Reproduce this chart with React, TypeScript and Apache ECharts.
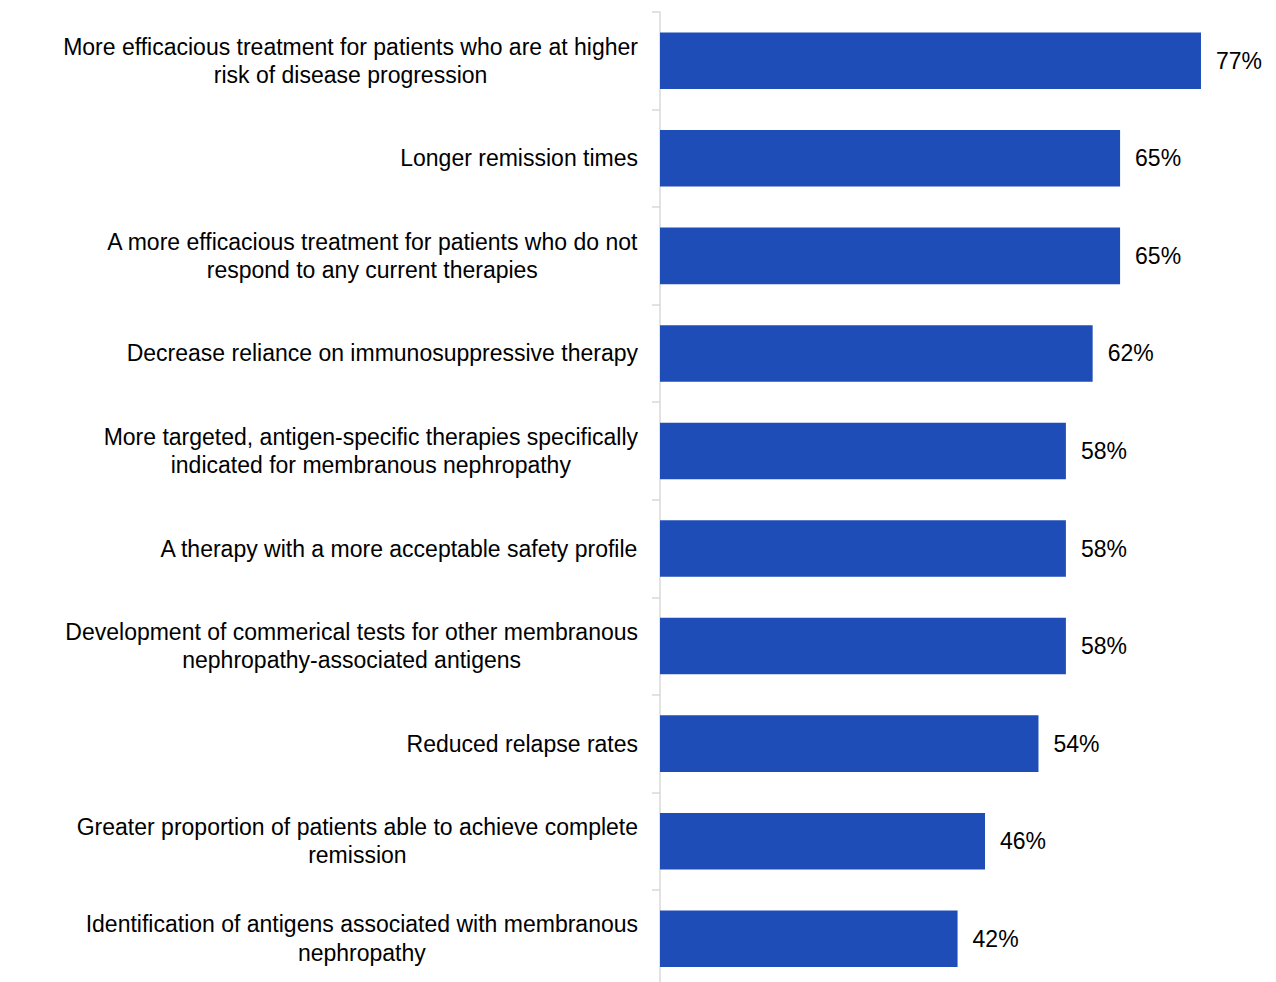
import React, { useEffect, useRef } from "react";
import * as echarts from "echarts";

const categories = [
  "More efficacious treatment for patients who are at higher\nrisk of disease progression",
  "Longer remission times",
  "A more efficacious treatment for patients who do not\nrespond to any current therapies",
  "Decrease reliance on immunosuppressive therapy",
  "More targeted, antigen-specific therapies specifically\nindicated for membranous nephropathy",
  "A therapy with a more acceptable safety profile",
  "Development of commerical tests for other membranous\nnephropathy-associated antigens",
  "Reduced relapse rates",
  "Greater proportion of patients able to achieve complete\nremission",
  "Identification of antigens associated with membranous\nnephropathy",
];

const values = [76.9, 65.4, 65.4, 61.5, 57.7, 57.7, 57.7, 53.8, 46.2, 42.3];

const FONT = "'Liberation Sans', Arial, sans-serif";

export default function App() {
  const ref = useRef<HTMLDivElement>(null);
  useEffect(() => {
    if (!ref.current) return;
    document.documentElement.style.overflow = "hidden";
    document.body.style.overflow = "hidden";
    const chart = echarts.init(ref.current, undefined, { renderer: "svg" });
    chart.setOption({
      animation: false,
      grid: { left: 652, right: 3, top: 4, bottom: 10.5, containLabel: false },
      xAxis: {
        type: "value",
        min: 0,
        max: 86,
        show: false,
      },
      yAxis: {
        type: "category",
        inverse: true,
        data: categories,
        axisLine: { show: true, lineStyle: { color: "#d9d9d9", width: 1.5 } },
        axisTick: { show: true, length: 8, lineStyle: { color: "#d9d9d9", width: 1.5 } },
        axisLabel: {
          margin: 22,
          color: "#000",
          fontFamily: FONT,
          fontSize: 23,
          lineHeight: 28.5,
          formatter: (v: string) =>
            v
              .split("\n")
              .map((l) => `{c|${l}}`)
              .join("\n"),
          rich: {
            c: { align: "center", fontFamily: FONT, fontSize: 23, lineHeight: 28.5, color: "#000" },
          },
        },
      },
      series: [
        {
          type: "bar",
          data: values,
          barCategoryGap: "42%",
          itemStyle: { color: "#1f4db8" },
          label: {
            show: true,
            position: "right",
            distance: 15,
            color: "#000",
            fontFamily: FONT,
            fontSize: 23,
            formatter: (p: any) => `${Math.round(p.value)}%`,
          },
        },
      ],
    });
    return () => chart.dispose();
  }, []);
  return <div ref={ref} style={{ width: 1260, height: 990 }} />;
}
